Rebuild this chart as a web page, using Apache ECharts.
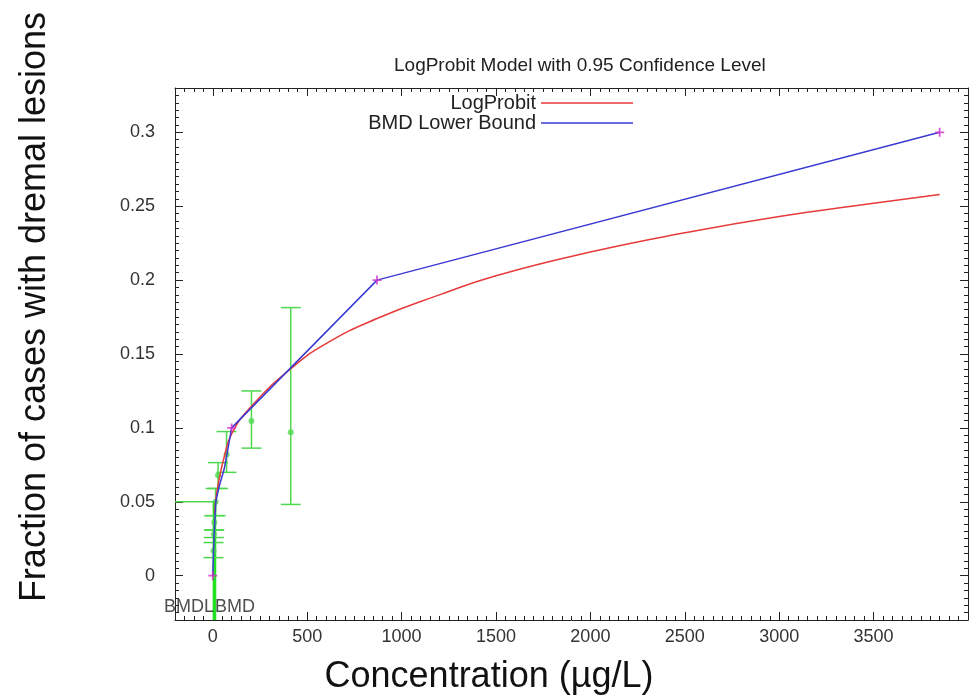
<!DOCTYPE html>
<html>
<head>
<meta charset="utf-8">
<script src="https://cdn.jsdelivr.net/npm/echarts@6/dist/echarts.min.js"></script>
<style>
  html, body { margin: 0; padding: 0; background: #fff; }
  #chart { width: 971px; height: 700px; }
</style>
</head>
<body>
<div id="chart"></div>
<script>
// observed dose groups: concentration, fraction, CI low, CI high
const doseX  = [4, 6, 8, 15, 28, 73, 205, 413];
const fracY  = [0.0168, 0.028, 0.036, 0.050, 0.068, 0.082, 0.1046, 0.097];
const ciLow  = [0.0122, 0.0258, 0.031, 0.0406, 0.059, 0.0699, 0.0863, 0.0482];
const ciHigh = [0.0224, 0.0308, 0.0406, 0.059, 0.0765, 0.0975, 0.125, 0.1814];

// LogProbit fitted curve
const modelX = [10, 15, 20, 35, 60, 100, 200, 413, 600, 870, 1200, 1500, 2000, 2500, 3000, 3500, 3850];
const modelY = [0.042, 0.05, 0.055, 0.066, 0.08, 0.096, 0.114, 0.14, 0.157, 0.174, 0.19, 0.203, 0.219, 0.232, 0.243, 0.252, 0.258];

// BMD lower bound line
const lowerX = [0, 7, 16, 33, 60, 78, 100, 870, 3850];
const lowerY = [0, 0.027, 0.05, 0.06, 0.072, 0.084, 0.1, 0.2, 0.3];
const markX = [0, 100, 870, 3850];
const markY = [0, 0.1, 0.2, 0.3];

const bmr = 0.05;
const bmdl = 6;
const bmd = 12;

const xTicks = [0, 500, 1000, 1500, 2000, 2500, 3000, 3500];
const yTicks = [0, 0.05, 0.1, 0.15, 0.2, 0.25, 0.3];
const xMin = -200, xMax = 4000;
const yMin = -0.03, yMax = 0.33;

const font = 'Liberation Sans';
const axisColor = '#222';
const green = '#4fd84f';

const zip = (a, b) => a.map((v, i) => [v, b[i]]);

const chart = echarts.init(document.getElementById('chart'));

const gridBox = { left: 175, right: 3, top: 88, bottom: 80 };

const majorX = (pos, labels) => ({
  type: 'value', gridIndex: 0, position: pos, min: xMin, max: xMax,
  axisLine: { show: true, onZero: false, lineStyle: { color: axisColor, width: 1 } },
  axisTick: { show: true, inside: true, length: 8, customValues: xTicks, lineStyle: { color: axisColor } },
  axisLabel: { show: labels, customValues: xTicks, fontSize: 18, color: '#333', fontFamily: font, margin: 8,
               formatter: v => String(v) },
  splitLine: { show: false }
});
const minorX = (pos) => ({
  type: 'value', gridIndex: 1, position: pos, min: xMin, max: xMax, interval: 50,
  axisLine: { show: false, onZero: false },
  axisTick: { show: true, inside: true, length: 4, lineStyle: { color: axisColor } },
  axisLabel: { show: false },
  splitLine: { show: false }
});
const majorY = (pos, labels) => ({
  type: 'value', gridIndex: 0, position: pos, min: yMin, max: yMax,
  axisLine: { show: true, onZero: false, lineStyle: { color: axisColor, width: 1 } },
  axisTick: { show: true, inside: true, length: 8, customValues: yTicks, lineStyle: { color: axisColor } },
  axisLabel: { show: labels, customValues: yTicks, fontSize: 18, color: '#333', fontFamily: font, margin: 20,
               formatter: v => String(v) },
  splitLine: { show: false }
});
const minorY = (pos) => ({
  type: 'value', gridIndex: 1, position: pos, min: yMin, max: yMax, interval: 0.005,
  axisLine: { show: false, onZero: false },
  axisTick: { show: true, inside: true, length: 4, lineStyle: { color: axisColor } },
  axisLabel: { show: false },
  splitLine: { show: false }
});

const option = {
  backgroundColor: '#fff',
  animation: false,
  title: {
    text: 'LogProbit Model with 0.95 Confidence Level',
    left: 389, top: 51,
    textStyle: { fontSize: 19, fontWeight: 'normal', color: '#222', fontFamily: font }
  },
  legend: {
    orient: 'vertical', align: 'right',
    right: 338, top: 93, padding: 0,
    itemWidth: 92, itemHeight: 14, itemGap: 0,
    icon: 'path://M0,0 H92 V1.5 H0 Z',
    textStyle: { fontSize: 20, lineHeight: 16, color: '#222', fontFamily: font },
    data: ['LogProbit', 'BMD Lower Bound']
  },
  grid: [
    Object.assign({}, gridBox),
    Object.assign({}, gridBox)
  ],
  xAxis: [majorX('bottom', true), majorX('top', false), minorX('bottom'), minorX('top')],
  yAxis: [majorY('left', true), majorY('right', false), minorY('left'), minorY('right')],
  graphic: [
    {
      type: 'text', x: 35, y: 307, rotation: Math.PI / 2,
      style: { text: 'Fraction of cases with dremal lesions', fontSize: 36, fontFamily: font,
               fill: '#111', textAlign: 'center', textVerticalAlign: 'middle' }
    },
    {
      type: 'text', x: 489, y: 677,
      style: { text: 'Concentration (µg/L)', fontSize: 36, fontFamily: font,
               fill: '#111', textAlign: 'center', textVerticalAlign: 'middle' }
    }
  ],
  series: [
    {
      name: 'BMR', type: 'line', xAxisIndex: 0, yAxisIndex: 0,
      data: [[xMin, bmr], [bmd, bmr]], symbol: 'none',
      lineStyle: { color: green, width: 1.5 }, z: 1
    },
    {
      name: 'BMDL line', type: 'line', xAxisIndex: 0, yAxisIndex: 0,
      data: [[bmdl, bmr], [bmdl, yMin]], symbol: 'none',
      lineStyle: { color: '#22e022', width: 2.5 }, z: 1
    },
    {
      name: 'BMD line', type: 'line', xAxisIndex: 0, yAxisIndex: 0,
      data: [[bmd, bmr], [bmd, yMin]], symbol: 'none',
      lineStyle: { color: '#22e022', width: 2.5 }, z: 1
    },
    {
      name: 'errors', type: 'custom', xAxisIndex: 0, yAxisIndex: 0,
      data: doseX.map((x, i) => [x, ciLow[i], ciHigh[i]]),
      encode: { x: 0, y: [1, 2] },
      renderItem: function (params, api) {
        const x = api.value(0);
        const lo = api.coord([x, api.value(1)]);
        const hi = api.coord([x, api.value(2)]);
        const hw = 10;
        const style = { stroke: green, lineWidth: 1.5 };
        return {
          type: 'group',
          children: [
            { type: 'line', shape: { x1: lo[0], y1: lo[1], x2: hi[0], y2: hi[1] }, style: style },
            { type: 'line', shape: { x1: lo[0] - hw, y1: lo[1], x2: lo[0] + hw, y2: lo[1] }, style: style },
            { type: 'line', shape: { x1: hi[0] - hw, y1: hi[1], x2: hi[0] + hw, y2: hi[1] }, style: style }
          ]
        };
      },
      z: 2
    },
    {
      name: 'observed', type: 'scatter', xAxisIndex: 0, yAxisIndex: 0,
      data: zip(doseX, fracY), symbol: 'circle', symbolSize: 6,
      itemStyle: { color: green }, z: 2
    },
    {
      name: 'LogProbit', type: 'line', xAxisIndex: 0, yAxisIndex: 0,
      data: zip(modelX, modelY), symbol: 'none', smooth: true,
      color: '#e83a3a', lineStyle: { color: '#e83a3a', width: 1.5 }, z: 3
    },
    {
      name: 'BMD Lower Bound', type: 'line', xAxisIndex: 0, yAxisIndex: 0,
      data: zip(lowerX, lowerY), symbol: 'none',
      color: '#3a3ad2', lineStyle: { color: '#3a3ad2', width: 1.5 }, z: 4
    },
    {
      name: 'bound points', type: 'scatter', xAxisIndex: 0, yAxisIndex: 0,
      data: zip(markX, markY),
      symbol: 'path://M4,0 H6 V4 H10 V6 H6 V10 H4 V6 H0 V4 H4 Z', symbolSize: 9,
      itemStyle: { color: '#d030d0' }, z: 5
    },
    {
      name: 'labels', type: 'scatter', xAxisIndex: 0, yAxisIndex: 0,
      symbolSize: 0, silent: true,
      data: [
        { value: [bmdl, -0.021], label: { show: true, formatter: 'BMDL', position: 'left', distance: 0 } },
        { value: [bmd, -0.021], label: { show: true, formatter: 'BMD', position: 'right', distance: 0 } }
      ],
      label: { fontSize: 18, color: '#222', fontFamily: font },
      z: 6
    }
  ]
};

chart.setOption(option);
window.addEventListener('resize', () => chart.resize());
</script>
</body>
</html>
